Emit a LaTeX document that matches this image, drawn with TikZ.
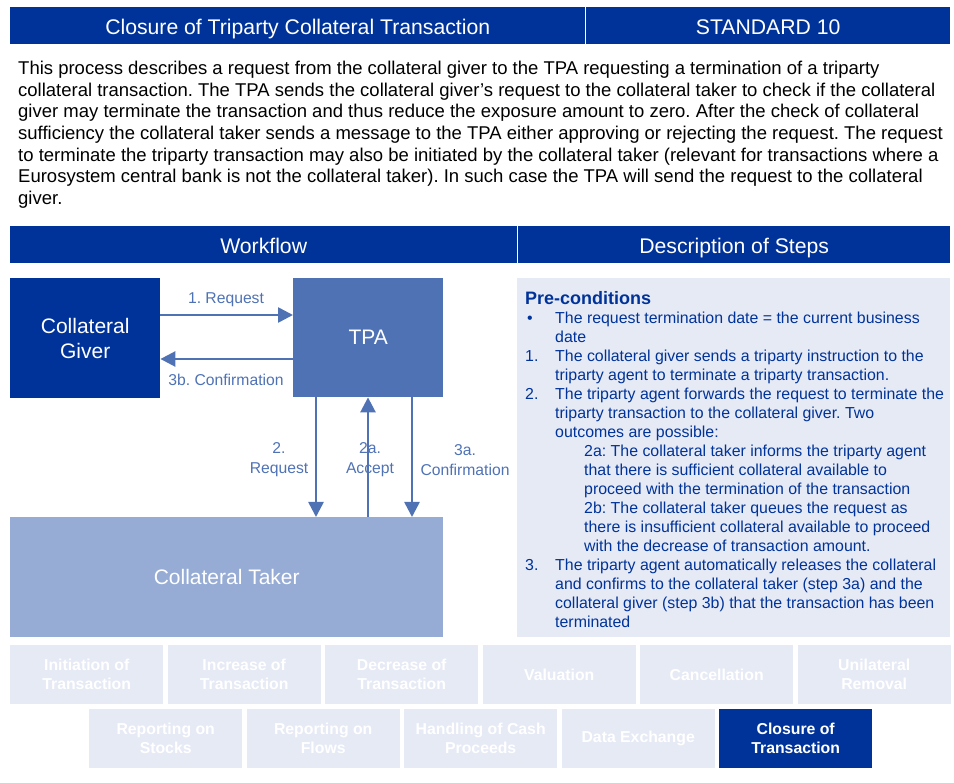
\documentclass[tikz,border=0pt]{standalone}
\usepackage{fontspec}
\setmainfont{Liberation Sans}
\usetikzlibrary{arrows.meta}
\definecolor{dkblue}{RGB}{0,51,153}
\definecolor{midblue}{RGB}{79,114,181}
\definecolor{takerblue}{RGB}{150,172,212}
\definecolor{panel}{RGB}{230,234,245}
\newcommand\myfs[2]{\fontsize{#1}{#2}\selectfont}
\frenchspacing
\begin{document}
\frenchspacing
\begin{tikzpicture}[x=1pt,y=-1pt,
  bar/.style={fill=dkblue, text=white, inner sep=0pt, anchor=north west, font=\myfs{21.2}{25}, text height=17pt, text depth=0pt},
  box/.style={inner sep=0pt, anchor=north west, text=white, align=center, font=\myfs{21}{25}},
  arr/.style={draw=midblue, line width=2.6pt, -{Triangle[width=15pt,length=15pt]}},
  lbl/.style={text=midblue, font=\myfs{15.7}{20}, align=center, inner sep=0pt},
  para/.style={anchor=base west, inner sep=0pt, font=\frenchspacing\myfs{18.5}{21.7}, text=black},
  desc/.style={anchor=base west, inner sep=0pt, font=\frenchspacing\myfs{15.9}{19}, text=dkblue},
  tab/.style={fill=panel, text=white, inner sep=0pt, anchor=north west, minimum width=153pt, minimum height=59pt, align=center, font=\bfseries\myfs{15.8}{19}},
  seltab/.style={tab, fill=dkblue}
]
\useasboundingbox (0,0) rectangle (954,783);

% header
\node[bar, minimum width=575pt, minimum height=37pt] (title) at (10,7) {Closure of Triparty Collateral Transaction};
\node[bar, minimum width=364pt, minimum height=37pt] (std) at (586,7) {STANDARD 10};

% paragraph
\node[para] (p1) at (18,74.5) {This process describes a request from the collateral giver to the TPA requesting a termination of a triparty};
\node[para] (p2) at (18,96.2) {collateral transaction. The TPA sends the collateral giver’s request to the collateral taker to check if the collateral};
\node[para] (p3) at (18,117.9) {giver may terminate the transaction and thus reduce the exposure amount to zero. After the check of collateral};
\node[para] (p4) at (18,139.6) {sufficiency the collateral taker sends a message to the TPA either approving or rejecting the request. The request};
\node[para] (p5) at (18,161.3) {to terminate the triparty transaction may also be initiated by the collateral taker (relevant for transactions where a};
\node[para] (p6) at (18,183.0) {Eurosystem central bank is not the collateral taker). In such case the TPA will send the request to the collateral};
\node[para] (p7) at (18,204.7) {giver.};

% section bars
\node[bar, minimum width=507pt, minimum height=37pt] (wf) at (10,226) {Workflow};
\node[bar, minimum width=432pt, minimum height=37pt] (ds) at (518,226) {Description of Steps};

% workflow boxes
\node[box, fill=dkblue, minimum width=150pt, minimum height=120pt] (cg) at (10,278) {\raisebox{-2pt}{\parbox{140pt}{\centering Collateral\\Giver}}};
\node[box, fill=midblue, minimum width=150pt, minimum height=119pt] (tpa) at (293,278) {TPA};
\node[box, fill=takerblue, minimum width=433pt, minimum height=120pt] (ct) at (10,517) {Collateral Taker};

% arrows
\draw[arr] (cg.east |- 0,315) -- (tpa.west |- 0,315);
\draw[arr] (tpa.west |- 0,359) -- (cg.east |- 0,359);
\draw[arr] (tpa.south -| 316,0) -- (ct.north -| 316,0);
\draw[arr] (ct.north -| 368,0) -- (tpa.south -| 368,0);
\draw[arr] (tpa.south -| 412,0) -- (ct.north -| 412,0);

\node[lbl] (l1) at (226,300) {1. Request};
\node[lbl] (l3b) at (226,380) {3b. Confirmation};
\node[lbl] (l2) at (279,460) {2.\\Request};
\node[lbl] (l2a) at (370,460) {2a.\\Accept};
\node[lbl] (l3a) at (465,460) {3a.\\Confirmation};

% description panel
\node[fill=panel, inner sep=0pt, anchor=north west, minimum width=433pt, minimum height=359pt] (panel) at (517,278) {};
\node[anchor=base west, inner sep=0pt, text=dkblue, font=\bfseries\myfs{18}{20}] (pre) at (525,304.5) {Pre-conditions};
\node[desc] (b0) at (527,323.5) {•};
\node[desc] (d1) at (555,323.5) {The request termination date = the current business};
\node[desc] (d2) at (555,342.5) {date};
\node[desc] (n1) at (525,361.5) {1.};
\node[desc] (d3) at (555,361.5) {The collateral giver sends a triparty instruction to the};
\node[desc] (d4) at (555,380.5) {triparty agent to terminate a triparty transaction.};
\node[desc] (n2) at (525,399.5) {2.};
\node[desc] (d5) at (555,399.5) {The triparty agent forwards the request to terminate the};
\node[desc] (d6) at (555,418.5) {triparty transaction to the collateral giver. Two};
\node[desc] (d7) at (555,437.5) {outcomes are possible:};
\node[desc] (d8) at (584,456.5) {2a: The collateral taker informs the triparty agent};
\node[desc] (d9) at (584,475.5) {that there is sufficient collateral available to};
\node[desc] (d10) at (584,494.5) {proceed with the termination of the transaction};
\node[desc] (d11) at (584,513.5) {2b: The collateral taker queues the request as};
\node[desc] (d12) at (584,532.5) {there is insufficient collateral available to proceed};
\node[desc] (d13) at (584,551.5) {with the decrease of transaction amount.};
\node[desc] (n3) at (525,570.5) {3.};
\node[desc] (d14) at (555,570.5) {The triparty agent automatically releases the collateral};
\node[desc] (d15) at (555,589.5) {and confirms to the collateral taker (step 3a) and the};
\node[desc] (d16) at (555,608.5) {collateral giver (step 3b) that the transaction has been};
\node[desc] (d17) at (555,627.5) {terminated};

% tabs row 1
\node[tab] (t1) at (10,645) {Initiation of\\Transaction};
\node[tab] (t2) at (167.5,645) {Increase of\\Transaction};
\node[tab] (t3) at (325,645) {Decrease of\\Transaction};
\node[tab] (t4) at (482.5,645) {Valuation};
\node[tab] (t5) at (640,645) {Cancellation};
\node[tab] (t6) at (797.5,645) {Unilateral\\Removal};
% tabs row 2
\node[tab] (t7) at (89,709) {Reporting on\\Stocks};
\node[tab] (t8) at (246.5,709) {Reporting on\\Flows};
\node[tab] (t9) at (404,709) {Handling of Cash\\Proceeds};
\node[tab] (t10) at (561.5,709) {Data Exchange};
\node[seltab] (t11) at (719,709) {Closure of\\Transaction};
\end{tikzpicture}
\end{document}
